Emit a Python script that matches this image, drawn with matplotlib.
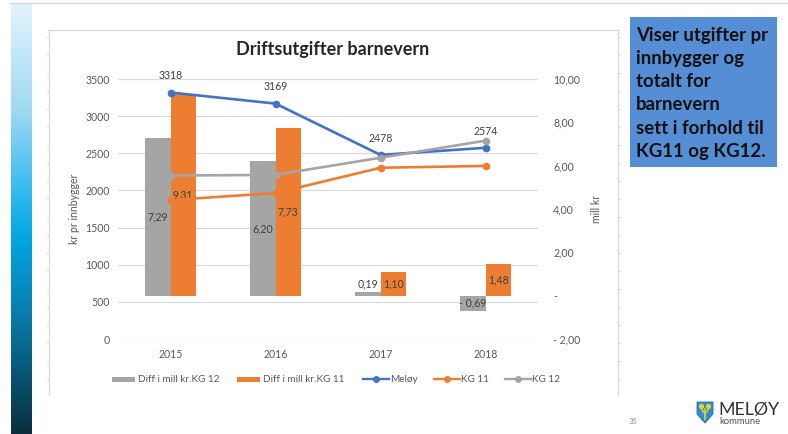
import matplotlib
matplotlib.use('Agg')
import matplotlib.pyplot as plt
import numpy as np
from matplotlib.colors import LinearSegmentedColormap
from matplotlib.patches import Rectangle, Polygon, Circle

plt.rcParams['font.family'] = ['Lato', 'DejaVu Sans']

# ---------------- data ----------------
years = ['2015', '2016', '2017', '2018']
diff_kg12 = [7.29, 6.20, 0.19, -0.69]      # mill kr (right axis)
diff_kg11 = [9.31, 7.73, 1.10, 1.48]       # mill kr (right axis)
meloy = [3318, 3169, 2478, 2574]           # kr pr innbygger (left axis)
kg11 = [1870, 1965, 2305, 2330]
kg12 = [2200, 2210, 2440, 2670]
left_ticks = [0, 500, 1000, 1500, 2000, 2500, 3000, 3500]
right_ticks = [-2, 0, 2, 4, 6, 8, 10]
right_tick_labels = ['- 2,00', '-', '2,00', '4,00', '6,00', '8,00', '10,00']
legend_labels = ['Diff i mill kr.KG 12', 'Diff i mill kr.KG 11', 'Meløy', 'KG 11', 'KG 12']
box_lines = ['Viser utgifter pr', 'innbygger og', 'totalt for', 'barnevern',
             'sett i forhold til', 'KG11 og KG12.']

GRAY = '#A5A5A5'
ORANGE = '#ED7D31'
BLUE = '#4472C4'
TXT = '#595959'
LBL = '#404040'
FS = 7.6

W, H = 788, 434
fig = plt.figure(figsize=(W / 100, H / 100), dpi=100)

def fx(x):
    return x / W

def fy(y):
    return 1 - y / H

# ---------------- slide background (pixel coords) ----------------
bg = fig.add_axes([0, 0, 1, 1])
bg.set_xlim(0, W)
bg.set_ylim(H, 0)
bg.axis('off')

cmap = LinearSegmentedColormap.from_list('strip', [
    (0.0, '#E2F4FC'), (0.25, '#9ED9F3'), (0.45, '#2DB8EE'), (0.55, '#00A5E2'),
    (0.70, '#0883B5'), (0.85, '#08587A'), (1.0, '#0A2E3E')])
grad = np.linspace(0, 1, 256).reshape(-1, 1)
bg.imshow(grad, cmap=cmap, extent=(11, 32, 434, 3), origin='upper', aspect='auto', zorder=1)
bg.set_xlim(0, W)
bg.set_ylim(H, 0)

# slide top line
bg.plot([10, W], [3, 3], color='#D6D6D6', lw=1.0, zorder=1)
# chart frame
fc = '#DCDCDC'
bg.plot([49, 49], [30, 395], color=fc, lw=1.0)
bg.plot([49, 618], [30, 30], color=fc, lw=1.0)
bg.plot([618, 618], [30, 395], color=fc, lw=1.0)
for yy in np.arange(37, 395, 18):
    bg.plot([47, 49], [yy, yy], color=fc, lw=0.8)
    bg.plot([618, 620], [yy, yy], color=fc, lw=0.8)

# text box
bg.add_patch(Rectangle((630, 17), 147, 150, facecolor='#558ED5', edgecolor='none', zorder=2))
for i, line in enumerate(box_lines):
    bg.text(636, 35 + i * 23.3, line, fontsize=13.4, fontweight='bold', color='#111111',
            va='center', ha='left', zorder=3)

# logo
shield = Polygon([(697, 402), (713, 402), (713, 414), (705, 423), (697, 414)],
                 closed=True, facecolor='#2B8FD6', edgecolor='#1B6FB0', lw=0.6, zorder=3)
bg.add_patch(shield)
for cx, cy in [(701.5, 406.5), (708.5, 406.5)]:
    bg.add_patch(Circle((cx, cy), 2.6, facecolor='#F2D21B', edgecolor='none', zorder=4))
bg.plot([705, 705], [409, 419], color='#F2D21B', lw=1.2, zorder=4)
bg.plot([701.5, 705, 708.5], [409, 414, 409], color='#F2D21B', lw=1.0, zorder=4)
bg.text(718, 409.5, 'MELØY', fontsize=12.8, color='#333333', va='center', ha='left')
bg.text(719, 422, 'kommune', fontsize=6.8, color='#555555', va='center', ha='left')
bg.text(633, 422, '35', fontsize=5.5, color='#8C8C8C', va='center', ha='center')

# ---------------- chart ----------------
pos = [fx(118), fy(339), 420 / W, 260 / H]
x = np.arange(len(years))

# grid + left axis
ax_grid = fig.add_axes(pos)
ax_grid.set_xlim(-0.5, len(years) - 0.5)
ax_grid.set_ylim(0, 3500)
ax_grid.set_yticks(left_ticks)
ax_grid.set_yticklabels([str(v) for v in left_ticks])
ax_grid.set_xticks(x)
ax_grid.set_xticklabels(years)
ax_grid.tick_params(axis='y', length=0, pad=6, labelsize=FS, labelcolor=TXT)
ax_grid.tick_params(axis='x', length=0, pad=7, labelsize=FS, labelcolor=TXT)
ax_grid.grid(axis='y', color='#D9D9D9', lw=0.8)
ax_grid.set_axisbelow(True)
for s in ax_grid.spines.values():
    s.set_visible(False)
ax_grid.patch.set_alpha(0)

# bars on right axis
ax_bar = fig.add_axes(pos)
ax_bar.patch.set_alpha(0)
ax_bar.set_xlim(-0.5, len(years) - 0.5)
ax_bar.set_ylim(-2, 10)
ax_bar.yaxis.tick_right()
ax_bar.set_yticks(right_ticks)
ax_bar.set_yticklabels(right_tick_labels)
ax_bar.tick_params(axis='y', length=0, pad=11, labelsize=FS, labelcolor=TXT)
ax_bar.set_xticks([])
for s in ax_bar.spines.values():
    s.set_visible(False)
bw = 0.24
ax_bar.bar(x - bw / 2, diff_kg12, width=bw, color=GRAY, zorder=2)
ax_bar.bar(x + bw / 2, diff_kg11, width=bw, color=ORANGE, zorder=2)

def fmt(v):
    s = f'{abs(v):.2f}'.replace('.', ',')
    return ('- ' + s) if v < 0 else s

for xi, v in zip(x - bw / 2, diff_kg12):
    yv = v / 2 if abs(v) > 0.5 else 0.55
    ax_bar.text(xi, yv, fmt(v), ha='center', va='center', fontsize=FS, color=LBL, zorder=5)
for xi, v in zip(x + bw / 2, diff_kg11):
    ax_bar.text(xi, v / 2, fmt(v), ha='center', va='center', fontsize=FS, color=LBL, zorder=5)

# lines on left axis
ax_line = fig.add_axes(pos)
ax_line.patch.set_alpha(0)
ax_line.set_xlim(-0.5, len(years) - 0.5)
ax_line.set_ylim(0, 3500)
ax_line.axis('off')
ax_line.plot(x, meloy, color=BLUE, lw=1.9, marker='o', ms=4.5)
ax_line.plot(x, kg11, color=ORANGE, lw=1.9, marker='o', ms=4.5)
ax_line.plot(x, kg12, color=GRAY, lw=1.9, marker='o', ms=4.5)
for xi, v in zip(x, meloy):
    ax_line.annotate(str(v), (xi, v), xytext=(0, 12), textcoords='offset points',
                     ha='center', va='center', fontsize=FS, color=LBL)

# titles / axis labels
fig.text(fx(333), fy(50), 'Driftsutgifter barnevern', fontsize=13, fontweight='bold',
         color='#262626', ha='center', va='center')
fig.text(fx(75), fy(209), 'kr pr innbygger', fontsize=FS, color=TXT, rotation=90,
         ha='center', va='center')
fig.text(fx(596), fy(209), 'mill kr', fontsize=FS, color=TXT, rotation=90,
         ha='center', va='center')

# legend (manual, pixel coords)
ly = 379
leg_x = [112, 237, 363, 434, 505]
kinds = [('patch', GRAY), ('patch', ORANGE), ('line', BLUE), ('line', ORANGE), ('line', GRAY)]
for lx, (kind, col), lab in zip(leg_x, kinds, legend_labels):
    if kind == 'patch':
        bg.add_patch(Rectangle((lx, ly - 2.5), 23, 5, facecolor=col, edgecolor='none'))
        tx = lx + 26
    else:
        bg.plot([lx, lx + 26], [ly, ly], color=col, lw=1.7)
        bg.plot([lx + 13], [ly], marker='o', ms=4, color=col)
        tx = lx + 27
    bg.text(tx, ly, lab, fontsize=7.2, color=TXT, va='center', ha='left')

fig.savefig('out.png', dpi=100)
